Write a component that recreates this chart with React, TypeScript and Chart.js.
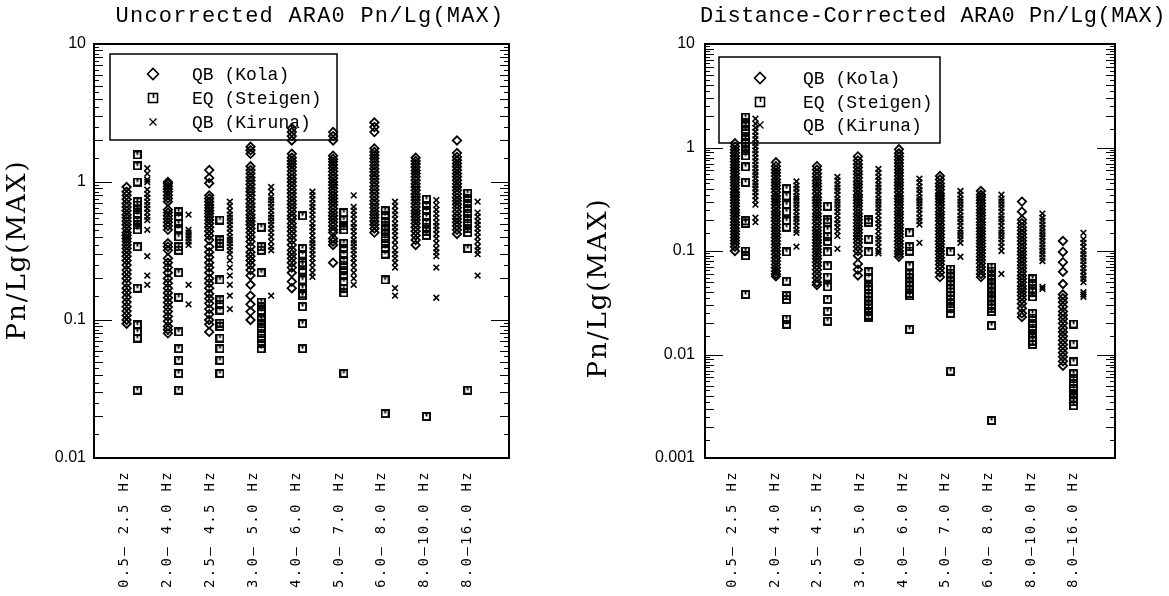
import React, { useEffect, useRef } from 'react';
import { Chart, registerables } from 'chart.js';

Chart.register(...registerables);

// ---------------- labels ----------------
const bandLabels = [
  '0.5– 2.5 Hz', '2.0– 4.0 Hz', '2.5– 4.5 Hz', '3.0– 5.0 Hz', '4.0– 6.0 Hz',
  '5.0– 7.0 Hz', '6.0– 8.0 Hz', '8.0–10.0 Hz', '8.0–16.0 Hz',
];
const seriesNames = ['QB (Kola)', 'EQ (Steigen)', 'QB (Kiruna)'];
const uncorrectedTitle = 'Uncorrected ARA0 Pn/Lg(MAX)';
const correctedTitle = 'Distance-Corrected ARA0 Pn/Lg(MAX)';
const yAxisTitle = 'Pn/Lg(MAX)';
const uncorrectedYTicks = [0.01, 0.1, 1, 10];
const correctedYTicks = [0.001, 0.01, 0.1, 1, 10];

// ---------------- uncorrected values (one inner list per band) ----------------
const kolaUncorrected = [
  [0.92, 0.85, 0.8, 0.75, 0.7, 0.66, 0.62, 0.58, 0.55, 0.52, 0.49, 0.46, 0.43, 0.41, 0.39, 0.37, 0.35, 0.33, 0.31, 0.29, 0.27, 0.25, 0.23, 0.215, 0.2, 0.185, 0.17, 0.158, 0.146, 0.135, 0.125, 0.116, 0.108, 0.1, 0.094],
  [1.0, 0.97, 0.93, 0.89, 0.85, 0.8, 0.76, 0.72, 0.63, 0.6, 0.57, 0.54, 0.51, 0.48, 0.45, 0.36, 0.34, 0.32, 0.28, 0.26, 0.24, 0.22, 0.2, 0.185, 0.17, 0.157, 0.145, 0.134, 0.124, 0.115, 0.106, 0.098, 0.09, 0.085, 0.08],
  [1.22, 1.07, 0.98, 0.8, 0.76, 0.72, 0.68, 0.65, 0.62, 0.59, 0.56, 0.53, 0.5, 0.47, 0.44, 0.41, 0.38, 0.34, 0.31, 0.285, 0.26, 0.24, 0.22, 0.2, 0.185, 0.17, 0.155, 0.143, 0.132, 0.12, 0.11, 0.1, 0.093, 0.082],
  [1.8, 1.7, 1.6, 1.3, 1.22, 1.15, 1.08, 1.02, 0.96, 0.9, 0.85, 0.8, 0.75, 0.7, 0.66, 0.62, 0.58, 0.55, 0.52, 0.49, 0.46, 0.43, 0.4, 0.37, 0.34, 0.31, 0.29, 0.27, 0.25, 0.23, 0.21, 0.18, 0.15, 0.13, 0.115, 0.1],
  [2.45, 2.3, 2.15, 2.0, 1.6, 1.5, 1.42, 1.35, 1.28, 1.2, 1.13, 1.06, 1.0, 0.94, 0.88, 0.83, 0.78, 0.73, 0.69, 0.65, 0.61, 0.57, 0.54, 0.5, 0.47, 0.44, 0.41, 0.38, 0.35, 0.32, 0.3, 0.28, 0.26, 0.24, 0.22, 0.19, 0.17],
  [2.3, 2.15, 2.0, 1.55, 1.47, 1.4, 1.33, 1.26, 1.19, 1.12, 1.06, 1.0, 0.95, 0.9, 0.85, 0.8, 0.76, 0.72, 0.68, 0.64, 0.6, 0.57, 0.54, 0.51, 0.48, 0.45, 0.43, 0.39, 0.37, 0.35, 0.26],
  [2.7, 2.5, 2.3, 1.75, 1.65, 1.56, 1.48, 1.4, 1.32, 1.25, 1.18, 1.11, 1.05, 0.99, 0.93, 0.88, 0.83, 0.78, 0.73, 0.69, 0.65, 0.61, 0.58, 0.55, 0.52, 0.49, 0.46, 0.43],
  [1.5, 1.42, 1.35, 1.28, 1.21, 1.15, 1.09, 1.03, 0.97, 0.92, 0.87, 0.82, 0.78, 0.74, 0.7, 0.66, 0.62, 0.59, 0.56, 0.53, 0.5, 0.47, 0.44, 0.41, 0.38, 0.35],
  [2.0, 1.62, 1.52, 1.44, 1.36, 1.29, 1.22, 1.15, 1.09, 1.03, 0.97, 0.92, 0.87, 0.82, 0.77, 0.73, 0.69, 0.65, 0.61, 0.57, 0.54, 0.51, 0.48, 0.45, 0.42],
];
const steigenUncorrected = [
  [1.57, 1.31, 1.0, 0.72, 0.68, 0.63, 0.58, 0.53, 0.49, 0.45, 0.34, 0.17, 0.092, 0.082, 0.074, 0.031],
  [0.61, 0.56, 0.5, 0.46, 0.4, 0.34, 0.32, 0.22, 0.146, 0.082, 0.062, 0.051, 0.041, 0.031],
  [0.53, 0.38, 0.36, 0.34, 0.195, 0.14, 0.13, 0.118, 0.095, 0.09, 0.074, 0.062, 0.051, 0.041],
  [0.47, 0.34, 0.32, 0.22, 0.135, 0.125, 0.115, 0.105, 0.1, 0.094, 0.087, 0.08, 0.074, 0.068, 0.062],
  [0.57, 0.33, 0.3, 0.26, 0.25, 0.23, 0.195, 0.17, 0.155, 0.15, 0.125, 0.094, 0.062],
  [0.6, 0.53, 0.48, 0.45, 0.36, 0.33, 0.3, 0.27, 0.25, 0.23, 0.21, 0.19, 0.17, 0.157, 0.041],
  [0.62, 0.57, 0.52, 0.48, 0.45, 0.42, 0.39, 0.36, 0.33, 0.3, 0.195, 0.021],
  [0.75, 0.68, 0.62, 0.56, 0.51, 0.47, 0.44, 0.41, 0.02],
  [0.83, 0.76, 0.7, 0.64, 0.59, 0.54, 0.5, 0.46, 0.43, 0.33, 0.031],
];
const kirunaUncorrected = [
  [1.26, 1.15, 1.04, 1.0, 0.88, 0.82, 0.77, 0.72, 0.68, 0.64, 0.6, 0.56, 0.53, 0.45, 0.29, 0.21, 0.18],
  [0.58, 0.45, 0.43, 0.41, 0.39, 0.37, 0.35, 0.18, 0.13],
  [0.72, 0.67, 0.62, 0.58, 0.55, 0.52, 0.49, 0.46, 0.43, 0.4, 0.38, 0.36, 0.34, 0.32, 0.3, 0.27, 0.24, 0.21, 0.18, 0.15, 0.12],
  [0.92, 0.85, 0.78, 0.74, 0.7, 0.66, 0.62, 0.58, 0.55, 0.52, 0.49, 0.46, 0.43, 0.4, 0.37, 0.34, 0.32, 0.15],
  [0.85, 0.8, 0.75, 0.7, 0.66, 0.62, 0.58, 0.54, 0.5, 0.47, 0.44, 0.41, 0.38, 0.36, 0.34, 0.32, 0.3, 0.28, 0.26, 0.24, 0.22, 0.205],
  [0.8, 0.66, 0.62, 0.58, 0.54, 0.5, 0.47, 0.44, 0.41, 0.38, 0.36, 0.34, 0.32, 0.3, 0.28, 0.26, 0.24, 0.22, 0.2, 0.18],
  [0.72, 0.67, 0.62, 0.58, 0.54, 0.5, 0.47, 0.44, 0.41, 0.38, 0.35, 0.32, 0.3, 0.28, 0.26, 0.24, 0.17, 0.15],
  [0.74, 0.68, 0.63, 0.59, 0.55, 0.51, 0.48, 0.45, 0.42, 0.39, 0.36, 0.33, 0.31, 0.29, 0.24, 0.145],
  [0.72, 0.6, 0.56, 0.52, 0.49, 0.46, 0.43, 0.4, 0.37, 0.34, 0.32, 0.3, 0.21],
];

// ---------------- distance-corrected values ----------------
const kolaCorrected = [
  [1.1, 1.02, 0.95, 0.89, 0.83, 0.78, 0.73, 0.68, 0.64, 0.6, 0.56, 0.52, 0.49, 0.46, 0.43, 0.4, 0.37, 0.35, 0.33, 0.31, 0.29, 0.27, 0.25, 0.235, 0.22, 0.205, 0.19, 0.178, 0.166, 0.155, 0.145, 0.135, 0.126, 0.118, 0.11, 0.1],
  [0.72, 0.66, 0.61, 0.57, 0.53, 0.49, 0.46, 0.43, 0.4, 0.37, 0.34, 0.32, 0.3, 0.28, 0.26, 0.24, 0.225, 0.21, 0.195, 0.18, 0.168, 0.156, 0.145, 0.135, 0.125, 0.116, 0.108, 0.1, 0.093, 0.086, 0.08, 0.074, 0.069, 0.064, 0.06, 0.057],
  [0.66, 0.61, 0.56, 0.52, 0.48, 0.45, 0.42, 0.39, 0.36, 0.33, 0.31, 0.29, 0.27, 0.25, 0.23, 0.215, 0.2, 0.185, 0.17, 0.158, 0.147, 0.137, 0.128, 0.12, 0.112, 0.104, 0.097, 0.09, 0.084, 0.078, 0.072, 0.066, 0.06, 0.055, 0.05, 0.047],
  [0.82, 0.75, 0.69, 0.64, 0.59, 0.55, 0.51, 0.47, 0.44, 0.41, 0.38, 0.35, 0.33, 0.31, 0.29, 0.27, 0.25, 0.23, 0.215, 0.2, 0.186, 0.173, 0.161, 0.15, 0.14, 0.13, 0.12, 0.11, 0.1, 0.09, 0.075, 0.066, 0.058],
  [0.96, 0.88, 0.82, 0.76, 0.71, 0.66, 0.61, 0.57, 0.53, 0.49, 0.46, 0.43, 0.4, 0.37, 0.34, 0.32, 0.3, 0.28, 0.26, 0.24, 0.225, 0.21, 0.195, 0.18, 0.168, 0.156, 0.145, 0.135, 0.125, 0.116, 0.108, 0.1, 0.094, 0.088],
  [0.53, 0.49, 0.45, 0.42, 0.39, 0.36, 0.34, 0.32, 0.3, 0.28, 0.26, 0.24, 0.225, 0.21, 0.195, 0.18, 0.168, 0.156, 0.145, 0.135, 0.125, 0.116, 0.108, 0.1, 0.093, 0.086, 0.08, 0.074, 0.068, 0.062, 0.056],
  [0.38, 0.35, 0.33, 0.31, 0.29, 0.27, 0.25, 0.235, 0.22, 0.205, 0.19, 0.178, 0.166, 0.155, 0.145, 0.135, 0.126, 0.118, 0.11, 0.102, 0.095, 0.088, 0.082, 0.076, 0.07, 0.065, 0.06, 0.056],
  [0.3, 0.24, 0.2, 0.185, 0.17, 0.158, 0.146, 0.135, 0.125, 0.116, 0.107, 0.099, 0.092, 0.085, 0.079, 0.073, 0.068, 0.063, 0.058, 0.054, 0.05, 0.046, 0.043, 0.04, 0.037, 0.034, 0.031, 0.028, 0.025, 0.023],
  [0.125, 0.098, 0.078, 0.063, 0.048, 0.038, 0.035, 0.032, 0.029, 0.026, 0.024, 0.022, 0.02, 0.018, 0.0165, 0.015, 0.0137, 0.0125, 0.0114, 0.0104, 0.0095, 0.0086, 0.0078],
];
const steigenCorrected = [
  [1.97, 1.75, 1.61, 1.45, 1.29, 1.2, 1.13, 1.03, 0.93, 0.83, 0.65, 0.46, 0.195, 0.186, 0.1, 0.09, 0.038],
  [0.4, 0.34, 0.28, 0.24, 0.195, 0.17, 0.098, 0.051, 0.037, 0.034, 0.022, 0.0196],
  [0.27, 0.2, 0.19, 0.16, 0.138, 0.124, 0.098, 0.072, 0.056, 0.045, 0.034, 0.026, 0.021],
  [0.2, 0.19, 0.13, 0.098, 0.063, 0.056, 0.045, 0.042, 0.039, 0.036, 0.033, 0.03, 0.028, 0.026, 0.024, 0.023],
  [0.15, 0.11, 0.1, 0.072, 0.06, 0.055, 0.05, 0.046, 0.042, 0.039, 0.037, 0.0175],
  [0.098, 0.067, 0.061, 0.056, 0.051, 0.047, 0.043, 0.04, 0.037, 0.034, 0.031, 0.028, 0.025, 0.0069],
  [0.07, 0.064, 0.058, 0.053, 0.048, 0.044, 0.04, 0.036, 0.033, 0.03, 0.028, 0.026, 0.019, 0.0023],
  [0.054, 0.048, 0.043, 0.04, 0.036, 0.025, 0.0225, 0.02, 0.018, 0.016, 0.0145, 0.0135, 0.0125],
  [0.0197, 0.0126, 0.0085, 0.0065, 0.0058, 0.0052, 0.0047, 0.0042, 0.0038, 0.0035, 0.0032],
];
const kirunaCorrected = [
  [1.9, 1.7, 1.55, 1.42, 1.3, 1.2, 1.1, 1.02, 0.94, 0.87, 0.8, 0.74, 0.68, 0.63, 0.58, 0.54, 0.5, 0.46, 0.43, 0.4, 0.37, 0.34, 0.31, 0.28, 0.21, 0.19],
  [0.47, 0.43, 0.4, 0.37, 0.34, 0.32, 0.3, 0.28, 0.26, 0.24, 0.22, 0.205, 0.19, 0.175, 0.16, 0.15, 0.11],
  [0.52, 0.48, 0.44, 0.41, 0.38, 0.35, 0.32, 0.3, 0.28, 0.26, 0.24, 0.22, 0.2, 0.185, 0.17, 0.155, 0.14, 0.105],
  [0.62, 0.57, 0.52, 0.48, 0.44, 0.41, 0.38, 0.35, 0.32, 0.3, 0.28, 0.26, 0.24, 0.22, 0.2, 0.185, 0.17, 0.155, 0.14, 0.13, 0.12, 0.11, 0.1, 0.095],
  [0.5, 0.46, 0.42, 0.39, 0.36, 0.33, 0.31, 0.29, 0.27, 0.25, 0.23, 0.21, 0.195, 0.18, 0.12],
  [0.38, 0.35, 0.32, 0.3, 0.28, 0.26, 0.24, 0.22, 0.205, 0.19, 0.175, 0.16, 0.15, 0.14, 0.13, 0.12, 0.088],
  [0.35, 0.32, 0.3, 0.28, 0.26, 0.24, 0.22, 0.205, 0.19, 0.175, 0.16, 0.15, 0.14, 0.13, 0.12, 0.11, 0.1, 0.06],
  [0.23, 0.21, 0.195, 0.18, 0.167, 0.155, 0.145, 0.135, 0.125, 0.116, 0.108, 0.1, 0.093, 0.086, 0.08, 0.045, 0.043],
  [0.15, 0.13, 0.12, 0.11, 0.1, 0.093, 0.086, 0.08, 0.074, 0.068, 0.063, 0.058, 0.054, 0.05, 0.04, 0.038, 0.036],
];

// ---------------- layout / style constants ----------------
const H = 596;
const SQUARE_OFFSET = 0.26;
const CROSS_OFFSET = 0.5;
const MINOR_STEPS = [1.5, 2, 2.5, 3, 3.5, 4, 4.5, 5, 5.5, 6, 6.5, 7, 7.5, 8, 8.5, 9, 9.5];
const MONO = '"Liberation Mono", "DejaVu Sans Mono", monospace';

type PanelSpec = {
  key: string;
  left: number;
  width: number;
  title: string;
  titleX: number;
  titleSpacing: number;
  yTitleX: number;
  yTitleY: number;
  yAxisWidth: number;
  yTickPad: number;
  padRight: number;
  xMin: number;
  xMax: number;
  yMin: number;
  yTicks: number[];
  kola: number[][];
  steigen: number[][];
  kiruna: number[][];
  legendBox: number[];
  legendMarkX: number;
  legendTextX: number;
  legendRows: number[];
};

const panels: PanelSpec[] = [
  {
    key: 'u', left: 0, width: 585, title: uncorrectedTitle, titleX: 310, titleSpacing: 1.2,
    yTitleX: 18, yTitleY: 250, yAxisWidth: 94, yTickPad: 0, padRight: 76,
    xMin: -0.79, xMax: 9.26, yMin: 0.01, yTicks: uncorrectedYTicks,
    kola: kolaUncorrected, steigen: steigenUncorrected, kiruna: kirunaUncorrected,
    legendBox: [110, 54, 227, 86], legendMarkX: 153, legendTextX: 192, legendRows: [74, 98, 122],
  },
  {
    key: 'c', left: 585, width: 584, title: correctedTitle, titleX: 348, titleSpacing: 0.5,
    yTitleX: 14, yTitleY: 288, yAxisWidth: 120, yTickPad: 2, padRight: 54,
    xMin: -0.73, xMax: 9.27, yMin: 0.001, yTicks: correctedYTicks,
    kola: kolaCorrected, steigen: steigenCorrected, kiruna: kirunaCorrected,
    legendBox: [134, 57, 221, 86], legendMarkX: 175, legendTextX: 218, legendRows: [78, 102, 125],
  },
];

function squareMarker(side: number, lw: number): HTMLCanvasElement {
  const c = document.createElement('canvas');
  const n = side + 2;
  c.width = n;
  c.height = n;
  const g = c.getContext('2d')!;
  g.strokeStyle = '#000';
  g.lineWidth = lw;
  g.strokeRect(1, 1, side, side);
  g.beginPath();
  g.moveTo(n / 2, 1);
  g.lineTo(n / 2, 1 + side * 0.5);
  g.stroke();
  return c;
}

function buildPoints(cols: number[][], offset: number) {
  const pts: { x: number; y: number }[] = [];
  cols.forEach((col, i) => col.forEach((v) => pts.push({ x: i + offset, y: v })));
  return pts;
}

function decorPlugin(p: PanelSpec) {
  return {
    id: 'decor_' + p.key,
    beforeDatasetsDraw(chart: any) {
      const ctx = chart.ctx as CanvasRenderingContext2D;
      const [bx, by, bw, bh] = p.legendBox;
      ctx.save();
      ctx.strokeStyle = '#000';
      ctx.lineWidth = 1.5;
      ctx.strokeRect(bx, by, bw, bh);
      ctx.fillStyle = '#000';
      ctx.font = '18px ' + MONO;
      ctx.textAlign = 'left';
      ctx.textBaseline = 'alphabetic';
      seriesNames.forEach((name, i) => {
        ctx.fillText(name, p.legendTextX, p.legendRows[i] + 6);
      });
      const mx = p.legendMarkX;
      ctx.lineWidth = 1.6;
      // diamond
      let y = p.legendRows[0];
      ctx.beginPath();
      ctx.moveTo(mx - 5.5, y); ctx.lineTo(mx, y - 5.5); ctx.lineTo(mx + 5.5, y); ctx.lineTo(mx, y + 5.5); ctx.closePath();
      ctx.stroke();
      // square
      y = p.legendRows[1];
      ctx.strokeRect(mx - 4.5, y - 4.5, 9, 9);
      ctx.beginPath(); ctx.moveTo(mx + 0.5, y - 4.5); ctx.lineTo(mx + 0.5, y); ctx.stroke();
      // cross
      y = p.legendRows[2];
      ctx.lineWidth = 1.3;
      ctx.beginPath();
      ctx.moveTo(mx - 3.5, y - 3.5); ctx.lineTo(mx + 3.5, y + 3.5);
      ctx.moveTo(mx + 3.5, y - 3.5); ctx.lineTo(mx - 3.5, y + 3.5);
      ctx.stroke();
      ctx.restore();
    },
    afterDraw(chart: any) {
      const ctx = chart.ctx as CanvasRenderingContext2D;
      const ca = chart.chartArea;
      const ys = chart.scales.y;
      const xs = chart.scales.x;
      ctx.save();
      ctx.strokeStyle = '#000';
      // frame
      ctx.lineWidth = 2;
      ctx.strokeRect(ca.left, ca.top, ca.right - ca.left, ca.bottom - ca.top);
      // inward log ticks on both vertical axes
      ctx.lineWidth = 1.2;
      const lo = Math.round(Math.log10(ys.min));
      const hi = Math.round(Math.log10(ys.max));
      const tick = (yy: number, len: number) => {
        const y = Math.round(yy) + 0.5;
        ctx.beginPath();
        ctx.moveTo(ca.left, y); ctx.lineTo(ca.left + len, y);
        ctx.moveTo(ca.right - len, y); ctx.lineTo(ca.right, y);
        ctx.stroke();
      };
      for (let d = lo; d <= hi; d++) {
        tick(ys.getPixelForValue(Math.pow(10, d)), 18);
        if (d === hi) break;
        MINOR_STEPS.forEach((k) => {
          tick(ys.getPixelForValue(k * Math.pow(10, d)), Number.isInteger(k) ? 9 : 5);
        });
      }
      // main title
      ctx.fillStyle = '#000';
      ctx.font = '22px ' + MONO;
      (ctx as any).letterSpacing = p.titleSpacing + 'px';
      ctx.textAlign = 'center';
      ctx.textBaseline = 'alphabetic';
      ctx.fillText(p.title, p.titleX, 22);
      // y title
      ctx.font = '26px "DejaVu Serif", serif';
      (ctx as any).letterSpacing = '2px';
      ctx.save();
      ctx.translate(p.yTitleX, p.yTitleY);
      ctx.rotate(-Math.PI / 2);
      ctx.textAlign = 'center';
      ctx.textBaseline = 'middle';
      ctx.fillText(yAxisTitle, 0, 0);
      ctx.restore();
      // band labels, rotated
      ctx.font = '14px "DejaVu Sans Mono", monospace';
      (ctx as any).letterSpacing = '2.3px';
      ctx.textAlign = 'right';
      ctx.textBaseline = 'middle';
      bandLabels.forEach((lab, i) => {
        const x = xs.getPixelForValue(-0.06 + 1.04 * i);
        ctx.save();
        ctx.translate(x, 470);
        ctx.rotate(-Math.PI / 2);
        ctx.fillText(lab, 0, 0);
        ctx.restore();
      });
      (ctx as any).letterSpacing = '0px';
      ctx.restore();
    },
  };
}

function Panel({ p }: { p: PanelSpec }) {
  const ref = useRef<HTMLCanvasElement>(null);
  useEffect(() => {
    const sq = squareMarker(7, 1.9);
    const common = { showLine: false, borderColor: '#000', backgroundColor: 'rgba(0,0,0,0)' };
    const chart = new Chart(ref.current!, {
      type: 'scatter',
      data: {
        datasets: [
          { ...common, label: seriesNames[0], data: buildPoints(p.kola, 0), pointStyle: 'rectRot', pointRadius: 4.2, pointHoverRadius: 4.2, borderWidth: 1.8 },
          { ...common, label: seriesNames[1], data: buildPoints(p.steigen, SQUARE_OFFSET), pointStyle: sq, pointRadius: 4, pointHoverRadius: 4, borderWidth: 1 },
          { ...common, label: seriesNames[2], data: buildPoints(p.kiruna, CROSS_OFFSET), pointStyle: 'crossRot', pointRadius: 4, pointHoverRadius: 4, borderWidth: 1.6 },
        ],
      } as any,
      options: {
        animation: false,
        responsive: false,
        events: [],
        layout: { padding: { left: 0, right: p.padRight, top: 44, bottom: 0 } },
        plugins: { legend: { display: false }, tooltip: { enabled: false }, title: { display: false } },
        scales: {
          x: {
            type: 'linear', min: p.xMin, max: p.xMax,
            grid: { display: false }, border: { display: false },
            ticks: { display: false },
            afterFit: (s: any) => { s.height = H - 458; },
          },
          y: {
            type: 'logarithmic', min: p.yMin, max: 10,
            grid: { display: false, drawTicks: true, tickLength: 8 }, border: { display: false },
            afterBuildTicks: (s: any) => { s.ticks = p.yTicks.map((v) => ({ value: v })); },
            ticks: {
              autoSkip: false, padding: p.yTickPad, color: '#000',
              font: { family: '"Liberation Sans", Arial, sans-serif', size: 16 },
              callback: (v: any) => String(v),
            },
            afterFit: (s: any) => { s.width = p.yAxisWidth; },
          },
        },
      } as any,
      plugins: [decorPlugin(p)],
    });
    return () => chart.destroy();
  }, []);
  return (
    <canvas
      ref={ref}
      width={p.width}
      height={H}
      style={{ position: 'absolute', left: p.left, top: 0, width: p.width, height: H }}
    />
  );
}

export default function App() {
  return (
    <div style={{ position: 'fixed', left: 0, top: 0, width: 1169, height: H, background: '#fff', overflow: 'hidden' }}>
      {panels.map((p) => <Panel key={p.key} p={p} />)}
    </div>
  );
}
